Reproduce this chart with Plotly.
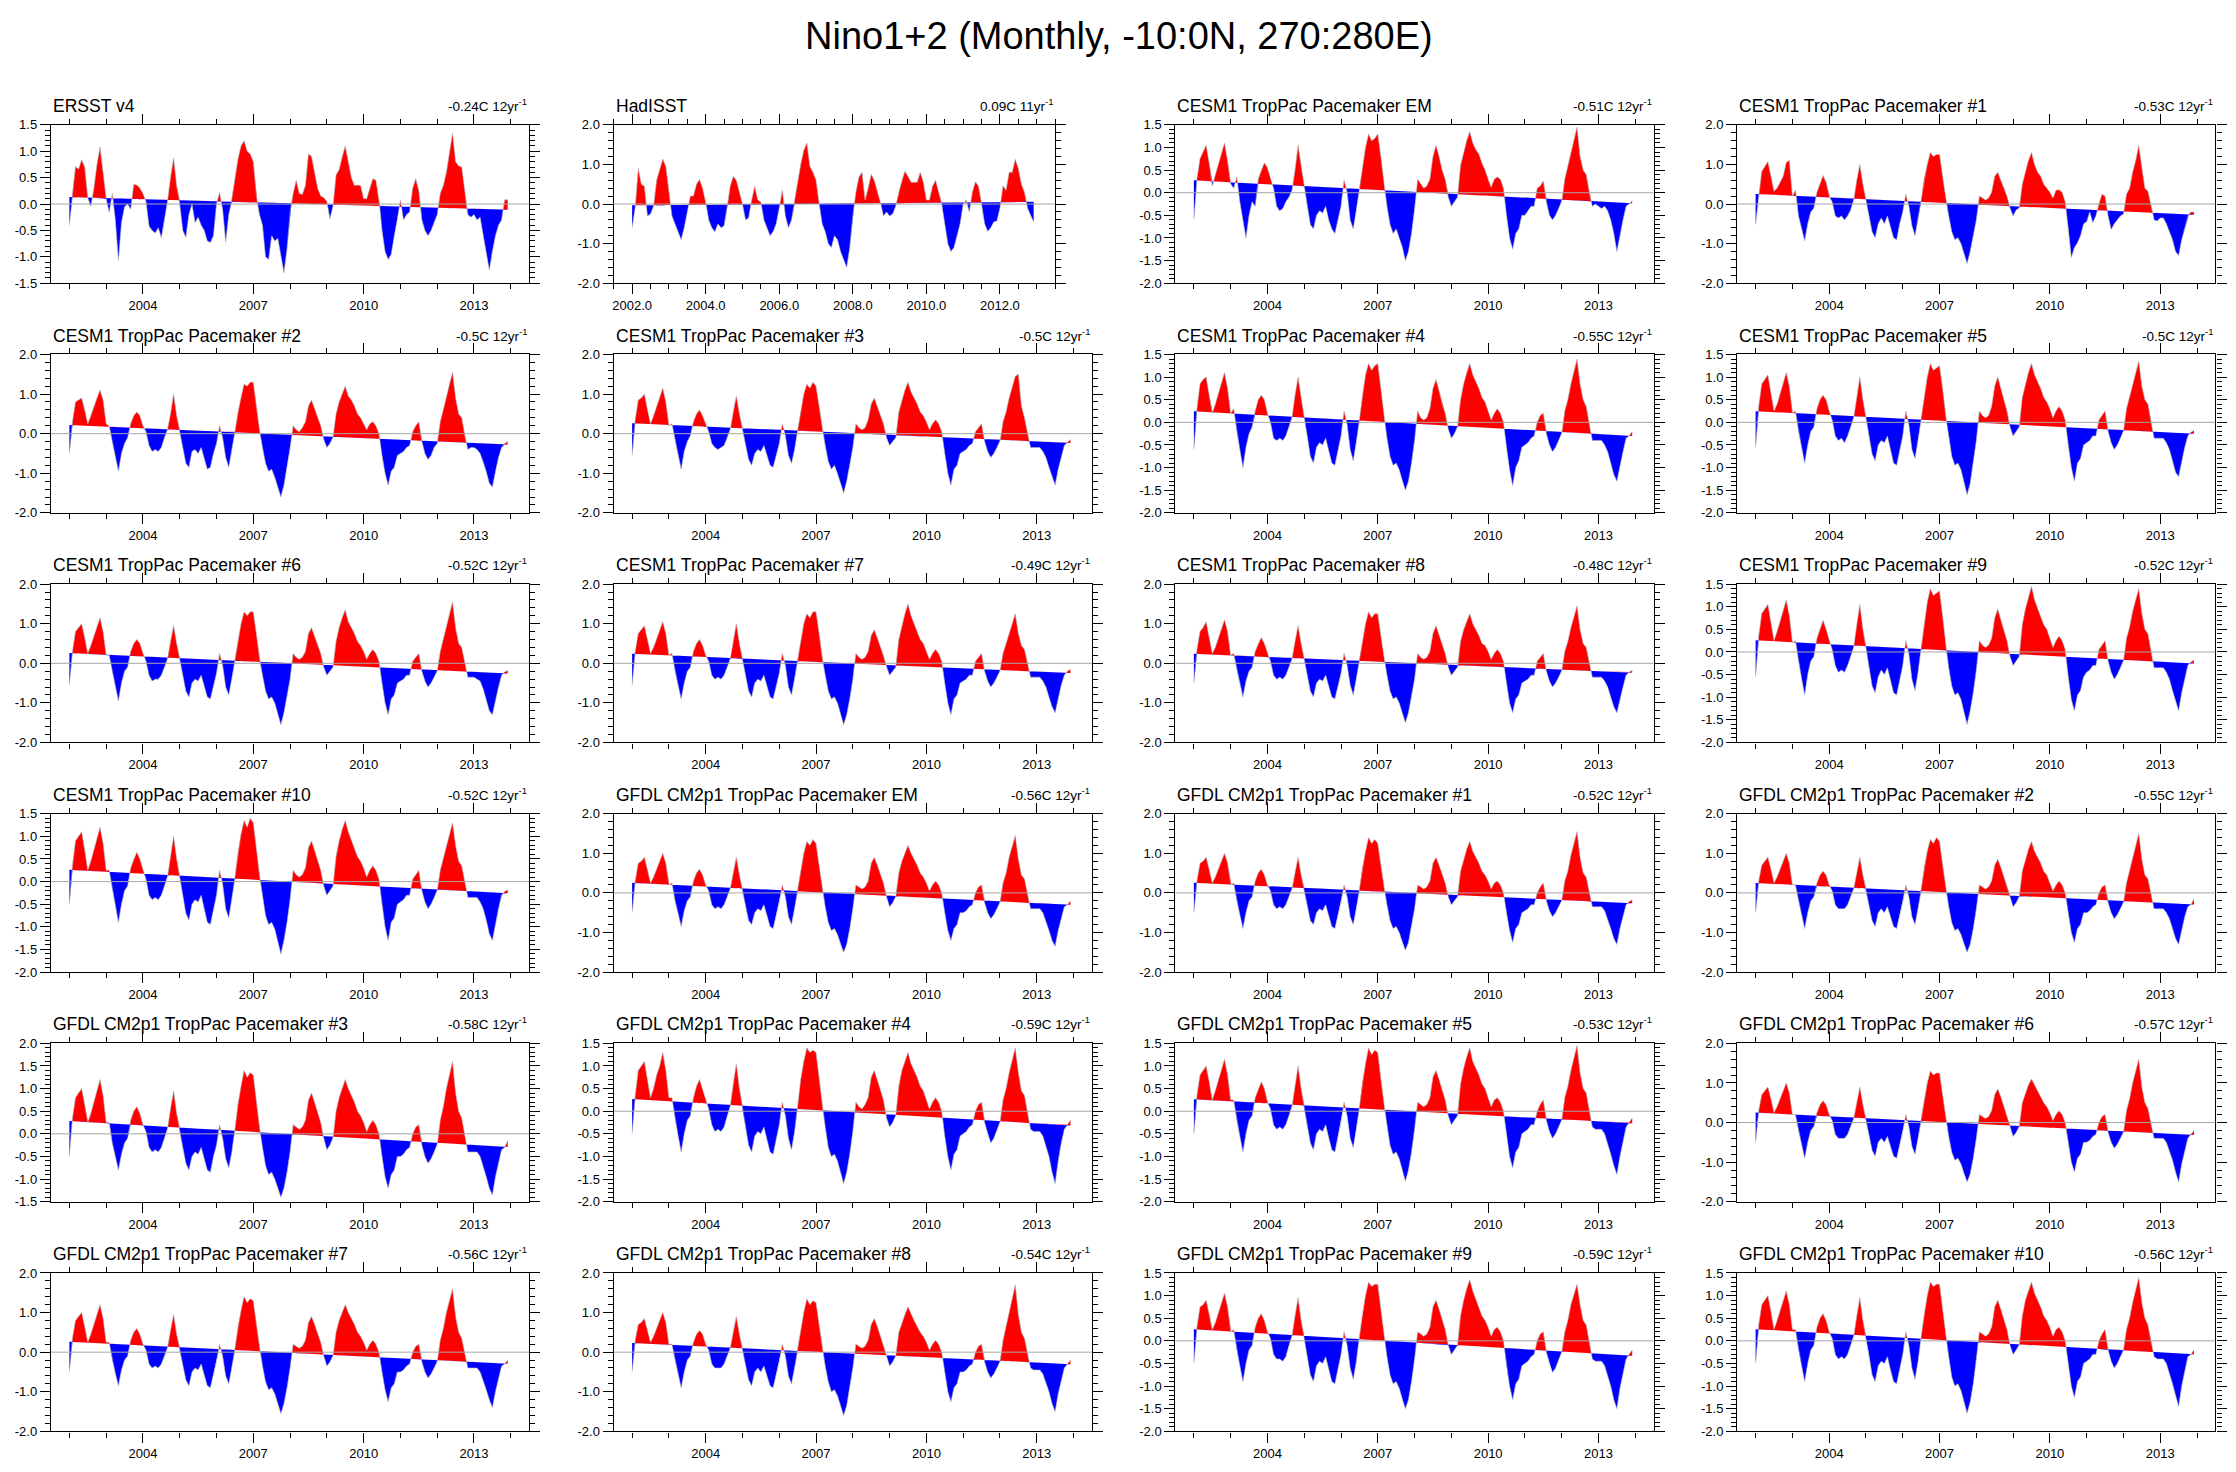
import numpy as np
import plotly.graph_objects as go

# page body has an 8px default margin; the figure is laid out in screen pixels
OFF = 8
SCREEN_W, SCREEN_H = 2236, 1472
W, H = SCREEN_W - OFF, SCREEN_H - OFF
FONT = "Liberation Sans, Arial, Helvetica, sans-serif"

main_title = "Nino1+2 (Monthly, -10:0N, 270:280E)"

panel_names = [
    "ERSST v4", "HadISST", "CESM1 TropPac Pacemaker EM", "CESM1 TropPac Pacemaker #1",
    "CESM1 TropPac Pacemaker #2", "CESM1 TropPac Pacemaker #3", "CESM1 TropPac Pacemaker #4", "CESM1 TropPac Pacemaker #5",
    "CESM1 TropPac Pacemaker #6", "CESM1 TropPac Pacemaker #7", "CESM1 TropPac Pacemaker #8", "CESM1 TropPac Pacemaker #9",
    "CESM1 TropPac Pacemaker #10", "GFDL CM2p1 TropPac Pacemaker EM", "GFDL CM2p1 TropPac Pacemaker #1", "GFDL CM2p1 TropPac Pacemaker #2",
    "GFDL CM2p1 TropPac Pacemaker #3", "GFDL CM2p1 TropPac Pacemaker #4", "GFDL CM2p1 TropPac Pacemaker #5", "GFDL CM2p1 TropPac Pacemaker #6",
    "GFDL CM2p1 TropPac Pacemaker #7", "GFDL CM2p1 TropPac Pacemaker #8", "GFDL CM2p1 TropPac Pacemaker #9", "GFDL CM2p1 TropPac Pacemaker #10",
]
trend_degC = [-0.24, 0.09, -0.51, -0.53,
              -0.5, -0.5, -0.55, -0.5,
              -0.52, -0.49, -0.48, -0.52,
              -0.52, -0.56, -0.52, -0.55,
              -0.58, -0.59, -0.53, -0.57,
              -0.56, -0.54, -0.59, -0.56]
trend_years = [12, 11] + [12] * 22
y_min = [-1.5, -2, -2, -2,  -2, -2, -2, -2,  -2, -2, -2, -2,  -2, -2, -2, -2,  -1.5, -2, -2, -2,  -2, -2, -2, -2]
y_max = [1.5, 2, 1.5, 2,  2, 2, 1.5, 1.5,  2, 2, 2, 1.5,  1.5, 2, 2, 2,  2, 1.5, 1.5, 2,  2, 2, 1.5, 1.5]
y_step = [0.5, 1, 0.5, 1,  1, 1, 0.5, 0.5,  1, 1, 1, 0.5,  0.5, 1, 1, 1,  0.5, 0.5, 0.5, 1,  1, 1, 0.5, 0.5]

start_year = 2002
year_ticks = [2004, 2007, 2010, 2013]
hadisst_ticks = [2002, 2004, 2006, 2008, 2010, 2012]

ersst = [
    -0.40, 0.20, 0.71, 0.66, 0.84, 0.70, 0.12, -0.04, 0.30, 0.75, 1.08, 0.60,
    0.10, -0.16, 0.20, -0.30, -1.07, -0.35, -0.05, 0.00, -0.10, 0.37, 0.36, 0.30,
    0.20, 0.05, -0.42, -0.50, -0.55, -0.45, -0.64, -0.30, 0.05, 0.50, 0.87, 0.35,
    0.00, -0.50, -0.63, -0.20, 0.00, -0.35, -0.25, -0.40, -0.50, -0.70, -0.73, -0.60,
    0.00, 0.22, -0.10, -0.72, -0.20, 0.10, 0.45, 0.85, 1.10, 1.20, 1.00, 0.95,
    0.80, 0.15, -0.20, -0.40, -1.00, -1.05, -0.60, -0.70, -0.65, -1.00, -1.30, -0.85,
    -0.15, 0.20, 0.45, 0.20, 0.18, 0.35, 0.95, 0.90, 0.60, 0.30, 0.15, 0.12,
    0.05, -0.28, -0.05, 0.55, 0.65, 0.90, 1.10, 0.80, 0.50, 0.35, 0.36, 0.35,
    0.10, 0.10, 0.30, 0.48, 0.45, 0.10, -0.50, -0.90, -1.05, -0.95, -0.60, -0.30,
    0.08, -0.30, -0.20, -0.15, 0.30, 0.48, 0.25, -0.30, -0.50, -0.60, -0.50, -0.35,
    -0.20, 0.20, 0.35, 0.60, 1.00, 1.34, 0.80, 0.72, 0.70, 0.20, -0.20, -0.25,
    -0.20, -0.30, -0.25, -0.60, -0.90, -1.25, -0.90, -0.60, -0.40, -0.30, 0.08, 0.08,
]
hadisst = [
    -0.60, -0.10, 0.90, 0.50, 0.45, -0.30, -0.25, -0.05, 0.60, 0.85, 1.14, 0.95,
    0.30, -0.30, -0.50, -0.70, -0.90, -0.60, -0.20, 0.20, 0.20, 0.50, 0.62, 0.40,
    0.05, -0.40, -0.60, -0.70, -0.50, -0.60, -0.55, -0.10, 0.45, 0.70, 0.60, 0.30,
    0.00, -0.40, -0.35, 0.10, 0.45, 0.10, 0.05, -0.40, -0.60, -0.80, -0.70, -0.50,
    -0.10, 0.35, -0.30, -0.60, -0.40, 0.10, 0.60, 1.00, 1.35, 1.54, 0.95, 0.80,
    0.60, 0.00, -0.50, -0.70, -1.00, -1.10, -0.80, -0.90, -1.20, -1.40, -1.60, -1.10,
    -0.30, 0.30, 0.68, 0.80, 0.10, 0.40, 0.75, 0.60, 0.35, 0.05, -0.30, -0.20,
    -0.30, -0.25, -0.05, 0.30, 0.60, 0.83, 0.70, 0.55, 0.55, 0.55, 0.80, 0.55,
    0.10, 0.10, 0.45, 0.60, 0.30, 0.00, -0.50, -1.00, -1.20, -1.10, -0.80, -0.50,
    0.00, 0.10, -0.20, 0.30, 0.56, 0.45, 0.00, -0.50, -0.69, -0.60, -0.45, -0.43,
    -0.10, 0.46, 0.35, 0.80, 0.80, 1.13, 0.90, 0.50, 0.30, -0.10, -0.30, -0.45,
]
cesm_em = [
    -0.6, 0.3, 0.75, 0.9, 1.05, 0.65, 0.15, 0.4, 0.65, 0.85, 1.1, 0.7,
    0.2, 0.1, 0.35, -0.2, -0.6, -1.0, -0.5, -0.2, -0.3, 0.3, 0.5, 0.66,
    0.55, 0.3, 0.1, -0.3, -0.4, -0.35, -0.2, -0.1, 0.05, 0.5, 1.05, 0.6,
    0.15, -0.3, -0.7, -0.8, -0.5, -0.4, -0.45, -0.3, -0.6, -0.8, -0.9, -0.6,
    -0.3, 0.28, 0.0, -0.6, -0.8, -0.4, 0.1, 0.6, 1.0, 1.3, 1.15, 1.2,
    1.3, 0.8, 0.2, -0.3, -0.7, -0.9, -0.8, -1.0, -1.2, -1.5, -1.3, -0.9,
    -0.4, 0.3, 0.2, 0.1, 0.15, 0.3, 0.8, 1.05, 0.8, 0.5, 0.3, -0.1,
    -0.3, -0.2, -0.1, 0.6, 0.9, 1.15, 1.35, 1.1, 0.95, 0.85, 0.65, 0.5,
    0.3, 0.12, 0.3, 0.35, 0.3, 0.1, -0.5, -1.0, -1.25, -0.9, -0.8, -0.5,
    -0.5, -0.4, -0.3, -0.3, 0.1, 0.15, 0.26, -0.2, -0.5, -0.6, -0.5, -0.35,
    -0.2, 0.3, 0.6, 0.9, 1.2, 1.45, 0.8, 0.5, 0.4, 0.0, -0.3, -0.25,
    -0.3, -0.35, -0.3, -0.4, -0.6, -0.9, -1.3, -0.9, -0.6, -0.3, -0.25, -0.18,
]
cesm_1 = [
    -0.52, 0.2, 0.82, 0.95, 1.07, 0.7, 0.32, 0.4, 0.55, 0.7, 1.05, 1.1,
    0.2, 0.35, -0.3, -0.6, -0.93, -0.5, -0.2, -0.1, 0.3, 0.5, 0.72, 0.55,
    0.2, 0.05, -0.3, -0.35, -0.3, -0.4, -0.3, -0.15, 0.1, 0.6, 1.0, 0.5,
    0.1, -0.3, -0.7, -0.85, -0.5, -0.35, -0.5, -0.3, -0.6, -0.85, -0.9, -0.5,
    -0.2, 0.25, -0.05, -0.55, -0.8, -0.35, 0.1, 0.65, 1.0, 1.3, 1.2, 1.25,
    1.25, 0.7, 0.15, -0.3, -0.7, -0.9, -0.85, -1.0, -1.25, -1.5, -1.2, -0.8,
    -0.4, 0.2, 0.15, 0.1, 0.15, 0.3, 0.7, 0.8, 0.6, 0.4, 0.2, -0.1,
    -0.3, -0.15, -0.1, 0.5, 0.8, 1.1, 1.3, 1.0, 0.8, 0.7, 0.5, 0.4,
    0.3, 0.15, 0.35, 0.36, 0.3, 0.05, -0.6, -1.35, -1.1, -0.98, -0.8, -0.5,
    -0.45, -0.2, -0.47, -0.3, 0.0, 0.25, 0.2, -0.3, -0.64, -0.5, -0.4, -0.3,
    -0.25, 0.25, 0.4, 0.8, 1.1, 1.48, 0.9, 0.4, 0.32, 0.0, -0.4, -0.43,
    -0.35, -0.35, -0.5, -0.7, -0.9, -1.2, -1.3, -0.9, -0.6, -0.3, -0.2, -0.2,
]
cesm_2 = [
    -0.5, 0.3, 0.8, 0.85, 0.9, 0.6, 0.25, 0.45, 0.7, 0.9, 1.1, 0.85,
    0.25, 0.2, -0.2, -0.55, -0.95, -0.5, -0.25, -0.1, 0.25, 0.45, 0.55, 0.45,
    0.2, 0.05, -0.3, -0.45, -0.4, -0.45, -0.35, -0.1, 0.1, 0.5, 1.0, 0.45,
    0.05, -0.35, -0.75, -0.85, -0.45, -0.4, -0.5, -0.35, -0.65, -0.9, -0.85, -0.5,
    -0.25, 0.2, -0.1, -0.6, -0.85, -0.4, 0.05, 0.55, 0.95, 1.25, 1.2, 1.3,
    1.3, 0.7, 0.1, -0.35, -0.75, -0.95, -0.9, -1.1, -1.35, -1.6, -1.3, -0.85,
    -0.4, 0.2, 0.1, 0.05, 0.15, 0.3, 0.7, 0.85, 0.65, 0.4, 0.2, -0.15,
    -0.35, -0.25, -0.1, 0.5, 0.8, 1.0, 1.2, 0.95, 0.85, 0.7, 0.5, 0.4,
    0.25, 0.1, 0.25, 0.3, 0.2, 0.0, -0.55, -1.0, -1.3, -0.95, -0.85, -0.55,
    -0.5, -0.45, -0.35, -0.3, 0.05, 0.2, 0.3, -0.2, -0.5, -0.65, -0.55, -0.35,
    -0.25, 0.3, 0.6, 0.95, 1.25, 1.55, 0.9, 0.5, 0.4, -0.05, -0.4, -0.35,
    -0.35, -0.4, -0.5, -0.7, -0.95, -1.25, -1.35, -0.95, -0.6, -0.35, -0.25, -0.2,
]
cesm_3 = [
    -0.55, 0.35, 0.85, 0.9, 1.0, 0.6, 0.25, 0.45, 0.7, 0.9, 1.15, 0.8,
    0.2, 0.25, -0.15, -0.5, -0.9, -0.45, -0.2, -0.05, 0.3, 0.5, 0.6, 0.45,
    0.25, 0.05, -0.25, -0.35, -0.4, -0.35, -0.3, -0.1, 0.1, 0.55, 0.95, 0.5,
    0.1, -0.3, -0.65, -0.8, -0.5, -0.4, -0.45, -0.3, -0.55, -0.8, -0.85, -0.55,
    -0.25, 0.25, -0.05, -0.55, -0.75, -0.4, 0.1, 0.6, 1.0, 1.25, 1.15, 1.3,
    1.2, 0.7, 0.15, -0.3, -0.7, -0.9, -0.8, -1.0, -1.25, -1.5, -1.2, -0.8,
    -0.35, 0.25, 0.15, 0.1, 0.15, 0.35, 0.75, 0.9, 0.7, 0.45, 0.25, -0.1,
    -0.3, -0.2, -0.1, 0.55, 0.85, 1.1, 1.3, 1.05, 0.9, 0.75, 0.55, 0.45,
    0.3, 0.1, 0.25, 0.35, 0.25, 0.05, -0.5, -1.0, -1.3, -0.9, -0.8, -0.5,
    -0.45, -0.4, -0.3, -0.25, 0.05, 0.15, 0.25, -0.2, -0.45, -0.6, -0.5, -0.35,
    -0.2, 0.3, 0.55, 0.9, 1.2, 1.45, 1.5, 0.7, 0.4, 0.0, -0.35, -0.35,
    -0.35, -0.35, -0.45, -0.6, -0.85, -1.1, -1.3, -0.9, -0.6, -0.3, -0.22, -0.15,
]
cesm_4 = [
    -0.6, 0.3, 0.85, 0.95, 1.0, 0.6, 0.2, 0.4, 0.65, 0.85, 1.1, 0.75,
    0.2, 0.3, -0.2, -0.6, -1.0, -0.55, -0.25, -0.1, 0.25, 0.5, 0.6, 0.5,
    0.2, 0.0, -0.35, -0.4, -0.35, -0.4, -0.3, -0.1, 0.1, 0.6, 1.0, 0.55,
    0.1, -0.3, -0.75, -0.9, -0.55, -0.45, -0.5, -0.35, -0.65, -0.9, -0.95, -0.6,
    -0.3, 0.25, -0.05, -0.6, -0.85, -0.45, 0.05, 0.6, 1.05, 1.3, 1.15, 1.25,
    1.3, 0.75, 0.15, -0.35, -0.75, -0.95, -0.9, -1.05, -1.3, -1.5, -1.3, -0.9,
    -0.4, 0.25, 0.1, 0.05, 0.1, 0.3, 0.75, 0.95, 0.7, 0.4, 0.2, -0.15,
    -0.35, -0.25, -0.1, 0.5, 0.85, 1.1, 1.3, 1.05, 0.9, 0.75, 0.55, 0.45,
    0.25, 0.05, 0.2, 0.3, 0.2, 0.0, -0.55, -1.05, -1.4, -1.0, -0.85, -0.55,
    -0.5, -0.45, -0.35, -0.3, 0.0, 0.15, 0.2, -0.25, -0.5, -0.65, -0.55, -0.4,
    -0.25, 0.25, 0.5, 0.85, 1.1, 1.4, 0.85, 0.5, 0.35, -0.05, -0.4, -0.4,
    -0.4, -0.4, -0.5, -0.65, -0.9, -1.15, -1.3, -0.95, -0.65, -0.35, -0.3, -0.2,
]
cesm_5 = [
    -0.55, 0.35, 0.85, 0.95, 1.05, 0.65, 0.25, 0.4, 0.65, 0.9, 1.1, 0.8,
    0.2, 0.25, -0.2, -0.55, -0.9, -0.5, -0.2, -0.1, 0.3, 0.5, 0.6, 0.5,
    0.25, 0.05, -0.3, -0.4, -0.35, -0.45, -0.3, -0.1, 0.1, 0.55, 1.0, 0.5,
    0.1, -0.3, -0.7, -0.85, -0.5, -0.4, -0.45, -0.3, -0.6, -0.9, -0.95, -0.6,
    -0.3, 0.25, -0.05, -0.6, -0.8, -0.4, 0.1, 0.6, 1.0, 1.3, 1.15, 1.2,
    1.25, 0.75, 0.15, -0.3, -0.75, -0.95, -0.9, -1.05, -1.3, -1.6, -1.35, -0.9,
    -0.4, 0.25, 0.15, 0.1, 0.15, 0.35, 0.8, 1.0, 0.75, 0.45, 0.25, -0.1,
    -0.3, -0.2, -0.1, 0.55, 0.85, 1.1, 1.3, 1.05, 0.9, 0.75, 0.55, 0.45,
    0.3, 0.1, 0.25, 0.35, 0.25, 0.05, -0.5, -1.0, -1.3, -0.9, -0.8, -0.5,
    -0.45, -0.4, -0.3, -0.3, 0.05, 0.15, 0.25, -0.2, -0.45, -0.6, -0.5, -0.35,
    -0.2, 0.3, 0.55, 0.85, 1.1, 1.35, 0.8, 0.5, 0.4, 0.0, -0.35, -0.35,
    -0.35, -0.35, -0.45, -0.6, -0.85, -1.1, -1.2, -0.85, -0.55, -0.3, -0.22, -0.18,
]
cesm_6 = [
    -0.55, 0.3, 0.8, 0.9, 1.0, 0.65, 0.25, 0.45, 0.7, 0.9, 1.15, 0.8,
    0.2, 0.2, -0.2, -0.6, -0.95, -0.5, -0.2, -0.1, 0.3, 0.5, 0.6, 0.5,
    0.25, 0.05, -0.3, -0.45, -0.4, -0.4, -0.3, -0.1, 0.1, 0.55, 0.95, 0.5,
    0.1, -0.3, -0.7, -0.85, -0.5, -0.4, -0.45, -0.3, -0.6, -0.85, -0.9, -0.55,
    -0.25, 0.25, -0.05, -0.6, -0.8, -0.4, 0.1, 0.6, 1.0, 1.3, 1.2, 1.3,
    1.3, 0.75, 0.15, -0.3, -0.7, -0.9, -0.85, -1.0, -1.3, -1.55, -1.25, -0.85,
    -0.4, 0.25, 0.15, 0.1, 0.15, 0.3, 0.75, 0.9, 0.7, 0.45, 0.25, -0.1,
    -0.3, -0.2, -0.1, 0.55, 0.9, 1.15, 1.35, 1.05, 0.9, 0.75, 0.55, 0.45,
    0.3, 0.1, 0.25, 0.35, 0.25, 0.05, -0.5, -1.0, -1.3, -0.9, -0.8, -0.5,
    -0.45, -0.4, -0.3, -0.3, 0.05, 0.15, 0.25, -0.2, -0.45, -0.6, -0.5, -0.35,
    -0.2, 0.3, 0.6, 0.95, 1.25, 1.55, 0.9, 0.5, 0.4, 0.0, -0.35, -0.35,
    -0.35, -0.4, -0.45, -0.65, -0.9, -1.2, -1.3, -0.9, -0.6, -0.3, -0.22, -0.18,
]
cesm_7 = [
    -0.55, 0.3, 0.75, 0.85, 0.95, 0.6, 0.25, 0.4, 0.6, 0.85, 1.05, 0.75,
    0.2, 0.25, -0.2, -0.55, -0.9, -0.5, -0.2, -0.1, 0.3, 0.5, 0.6, 0.45,
    0.2, 0.05, -0.3, -0.4, -0.35, -0.4, -0.3, -0.1, 0.1, 0.55, 1.0, 0.5,
    0.1, -0.3, -0.7, -0.85, -0.5, -0.4, -0.45, -0.3, -0.6, -0.85, -0.9, -0.55,
    -0.25, 0.25, -0.05, -0.6, -0.8, -0.4, 0.1, 0.6, 1.0, 1.25, 1.15, 1.3,
    1.3, 0.75, 0.15, -0.3, -0.7, -0.9, -0.85, -1.0, -1.3, -1.55, -1.3, -0.9,
    -0.4, 0.25, 0.15, 0.1, 0.15, 0.3, 0.7, 0.85, 0.65, 0.4, 0.2, -0.1,
    -0.3, -0.2, -0.1, 0.6, 0.95, 1.25, 1.5, 1.2, 1.0, 0.8, 0.6, 0.5,
    0.3, 0.1, 0.25, 0.35, 0.25, 0.05, -0.5, -1.0, -1.3, -0.9, -0.8, -0.5,
    -0.45, -0.4, -0.3, -0.3, 0.05, 0.15, 0.25, -0.2, -0.45, -0.6, -0.5, -0.35,
    -0.2, 0.25, 0.5, 0.8, 1.05, 1.25, 0.75, 0.45, 0.35, 0.0, -0.35, -0.35,
    -0.35, -0.35, -0.45, -0.6, -0.85, -1.1, -1.25, -0.85, -0.55, -0.3, -0.2, -0.15,
]
cesm_8 = [
    -0.5, 0.35, 0.8, 0.9, 1.05, 0.65, 0.25, 0.4, 0.65, 0.85, 1.1, 0.8,
    0.2, 0.25, -0.15, -0.5, -0.85, -0.45, -0.2, -0.1, 0.3, 0.5, 0.65, 0.5,
    0.25, 0.05, -0.3, -0.4, -0.35, -0.4, -0.3, -0.1, 0.1, 0.55, 0.95, 0.5,
    0.1, -0.3, -0.7, -0.85, -0.5, -0.4, -0.45, -0.3, -0.6, -0.85, -0.9, -0.55,
    -0.25, 0.25, -0.05, -0.55, -0.8, -0.4, 0.1, 0.6, 1.0, 1.3, 1.15, 1.25,
    1.25, 0.7, 0.15, -0.3, -0.7, -0.9, -0.85, -1.0, -1.25, -1.5, -1.25, -0.85,
    -0.4, 0.25, 0.15, 0.1, 0.15, 0.3, 0.75, 0.95, 0.7, 0.45, 0.25, -0.1,
    -0.3, -0.2, -0.1, 0.55, 0.85, 1.05, 1.25, 1.0, 0.85, 0.7, 0.5, 0.45,
    0.3, 0.1, 0.25, 0.35, 0.25, 0.05, -0.5, -1.0, -1.25, -0.9, -0.8, -0.5,
    -0.45, -0.4, -0.3, -0.3, 0.05, 0.15, 0.25, -0.2, -0.45, -0.6, -0.5, -0.35,
    -0.2, 0.3, 0.55, 0.9, 1.2, 1.45, 0.85, 0.5, 0.4, 0.0, -0.35, -0.35,
    -0.35, -0.35, -0.45, -0.6, -0.85, -1.1, -1.25, -0.9, -0.6, -0.3, -0.22, -0.18,
]
cesm_9 = [
    -0.55, 0.35, 0.85, 0.95, 1.05, 0.65, 0.25, 0.45, 0.7, 0.9, 1.15, 0.8,
    0.2, 0.25, -0.2, -0.6, -0.95, -0.5, -0.2, -0.1, 0.3, 0.5, 0.7, 0.5,
    0.25, 0.05, -0.3, -0.45, -0.4, -0.45, -0.3, -0.1, 0.1, 0.6, 1.05, 0.5,
    0.1, -0.35, -0.75, -0.9, -0.55, -0.4, -0.5, -0.35, -0.65, -0.9, -0.95, -0.6,
    -0.3, 0.25, -0.05, -0.6, -0.85, -0.45, 0.1, 0.65, 1.1, 1.4, 1.25, 1.3,
    1.35, 0.8, 0.15, -0.35, -0.75, -0.95, -0.9, -1.05, -1.35, -1.6, -1.3, -0.9,
    -0.4, 0.25, 0.15, 0.1, 0.15, 0.3, 0.75, 0.95, 0.7, 0.45, 0.25, -0.1,
    -0.3, -0.2, -0.1, 0.6, 0.95, 1.2, 1.45, 1.15, 0.95, 0.8, 0.6, 0.5,
    0.3, 0.1, 0.25, 0.35, 0.25, 0.05, -0.55, -1.05, -1.3, -0.95, -0.85, -0.55,
    -0.45, -0.4, -0.3, -0.3, 0.05, 0.15, 0.25, -0.2, -0.45, -0.6, -0.5, -0.35,
    -0.2, 0.3, 0.55, 0.9, 1.15, 1.4, 0.85, 0.5, 0.4, 0.0, -0.35, -0.35,
    -0.35, -0.35, -0.45, -0.6, -0.85, -1.1, -1.3, -0.9, -0.6, -0.3, -0.22, -0.18,
]
cesm_10 = [
    -0.5, 0.35, 0.9, 1.0, 1.1, 0.7, 0.25, 0.45, 0.7, 0.95, 1.2, 0.85,
    0.25, 0.25, -0.15, -0.55, -0.9, -0.5, -0.2, -0.1, 0.3, 0.5, 0.65, 0.5,
    0.25, 0.05, -0.3, -0.4, -0.35, -0.4, -0.3, -0.1, 0.1, 0.55, 1.0, 0.5,
    0.1, -0.3, -0.7, -0.85, -0.5, -0.4, -0.45, -0.3, -0.6, -0.9, -0.95, -0.6,
    -0.3, 0.25, -0.05, -0.6, -0.8, -0.4, 0.1, 0.65, 1.05, 1.35, 1.2, 1.4,
    1.3, 0.75, 0.15, -0.3, -0.75, -0.95, -0.9, -1.05, -1.35, -1.6, -1.3, -0.9,
    -0.4, 0.25, 0.15, 0.1, 0.15, 0.3, 0.75, 0.9, 0.7, 0.45, 0.25, -0.1,
    -0.3, -0.2, -0.1, 0.55, 0.9, 1.15, 1.35, 1.1, 0.9, 0.75, 0.55, 0.45,
    0.3, 0.1, 0.25, 0.35, 0.25, 0.05, -0.5, -1.0, -1.3, -0.9, -0.8, -0.5,
    -0.45, -0.4, -0.3, -0.3, 0.05, 0.15, 0.25, -0.2, -0.45, -0.6, -0.5, -0.35,
    -0.2, 0.25, 0.5, 0.8, 1.05, 1.3, 0.8, 0.45, 0.35, 0.0, -0.35, -0.35,
    -0.35, -0.35, -0.45, -0.6, -0.85, -1.15, -1.3, -0.9, -0.6, -0.3, -0.22, -0.18,
]
gfdl_em = [
    -0.5, 0.3, 0.75, 0.8, 0.9, 0.6, 0.25, 0.4, 0.6, 0.8, 1.0, 0.75,
    0.2, 0.25, -0.2, -0.5, -0.85, -0.45, -0.2, -0.1, 0.3, 0.5, 0.6, 0.45,
    0.2, 0.05, -0.3, -0.4, -0.35, -0.4, -0.3, -0.1, 0.1, 0.5, 0.9, 0.45,
    0.05, -0.3, -0.7, -0.8, -0.5, -0.4, -0.45, -0.3, -0.6, -0.85, -0.9, -0.55,
    -0.25, 0.2, -0.1, -0.6, -0.8, -0.4, 0.1, 0.6, 1.0, 1.3, 1.2, 1.35,
    1.25, 0.7, 0.15, -0.35, -0.75, -0.95, -0.9, -1.05, -1.3, -1.5, -1.3, -0.9,
    -0.4, 0.2, 0.15, 0.1, 0.15, 0.3, 0.75, 0.9, 0.7, 0.45, 0.25, -0.1,
    -0.35, -0.25, -0.1, 0.5, 0.8, 1.0, 1.2, 1.0, 0.85, 0.7, 0.5, 0.4,
    0.25, 0.05, 0.2, 0.3, 0.2, 0.0, -0.5, -0.95, -1.2, -0.9, -0.8, -0.5,
    -0.5, -0.45, -0.35, -0.3, 0.0, 0.15, 0.2, -0.25, -0.5, -0.65, -0.55, -0.4,
    -0.25, 0.25, 0.5, 0.9, 1.2, 1.45, 0.85, 0.45, 0.35, -0.05, -0.4, -0.4,
    -0.4, -0.4, -0.5, -0.7, -0.95, -1.2, -1.35, -0.95, -0.65, -0.35, -0.3, -0.2,
]
gfdl_1 = [
    -0.5, 0.3, 0.75, 0.8, 0.9, 0.6, 0.25, 0.4, 0.6, 0.8, 1.0, 0.75,
    0.2, 0.25, -0.2, -0.55, -0.9, -0.5, -0.2, -0.1, 0.3, 0.5, 0.6, 0.45,
    0.2, 0.05, -0.3, -0.4, -0.35, -0.4, -0.3, -0.1, 0.1, 0.5, 0.9, 0.45,
    0.05, -0.3, -0.7, -0.8, -0.5, -0.4, -0.45, -0.3, -0.6, -0.85, -0.9, -0.55,
    -0.25, 0.2, -0.1, -0.6, -0.8, -0.4, 0.1, 0.65, 1.05, 1.4, 1.25, 1.35,
    1.25, 0.7, 0.15, -0.3, -0.7, -0.9, -0.85, -1.0, -1.25, -1.45, -1.25, -0.85,
    -0.4, 0.2, 0.15, 0.1, 0.15, 0.3, 0.75, 0.9, 0.7, 0.45, 0.25, -0.1,
    -0.3, -0.2, -0.1, 0.55, 0.85, 1.1, 1.3, 1.05, 0.9, 0.75, 0.55, 0.45,
    0.3, 0.1, 0.25, 0.3, 0.2, 0.0, -0.5, -0.95, -1.25, -0.9, -0.8, -0.5,
    -0.45, -0.4, -0.3, -0.3, 0.0, 0.15, 0.25, -0.2, -0.45, -0.6, -0.5, -0.35,
    -0.2, 0.3, 0.55, 0.95, 1.25, 1.55, 0.9, 0.5, 0.4, 0.0, -0.35, -0.35,
    -0.35, -0.35, -0.45, -0.65, -0.9, -1.15, -1.3, -0.9, -0.6, -0.3, -0.22, -0.18,
]
gfdl_2 = [
    -0.5, 0.3, 0.7, 0.8, 0.9, 0.6, 0.25, 0.4, 0.6, 0.8, 1.0, 0.75,
    0.2, 0.2, -0.2, -0.55, -0.9, -0.5, -0.2, -0.1, 0.25, 0.45, 0.55, 0.45,
    0.2, 0.05, -0.3, -0.4, -0.4, -0.4, -0.3, -0.1, 0.1, 0.5, 0.9, 0.45,
    0.05, -0.3, -0.7, -0.85, -0.5, -0.4, -0.5, -0.35, -0.6, -0.85, -0.9, -0.55,
    -0.25, 0.2, -0.1, -0.6, -0.8, -0.4, 0.1, 0.65, 1.05, 1.35, 1.25, 1.4,
    1.3, 0.7, 0.15, -0.35, -0.75, -0.95, -0.9, -1.05, -1.3, -1.5, -1.3, -0.9,
    -0.4, 0.2, 0.15, 0.1, 0.15, 0.3, 0.7, 0.85, 0.65, 0.4, 0.2, -0.1,
    -0.35, -0.25, -0.1, 0.55, 0.85, 1.1, 1.3, 1.05, 0.9, 0.75, 0.55, 0.45,
    0.25, 0.05, 0.2, 0.3, 0.2, 0.0, -0.5, -1.0, -1.25, -0.9, -0.8, -0.5,
    -0.5, -0.45, -0.35, -0.3, 0.0, 0.15, 0.2, -0.25, -0.5, -0.65, -0.55, -0.4,
    -0.25, 0.25, 0.55, 0.9, 1.2, 1.5, 0.85, 0.45, 0.35, -0.05, -0.4, -0.4,
    -0.4, -0.4, -0.5, -0.65, -0.9, -1.15, -1.3, -0.9, -0.6, -0.35, -0.3, -0.15,
]
gfdl_3 = [
    -0.5, 0.35, 0.8, 0.9, 1.0, 0.65, 0.25, 0.45, 0.7, 0.9, 1.2, 0.85,
    0.25, 0.25, -0.2, -0.5, -0.8, -0.45, -0.2, -0.1, 0.3, 0.5, 0.6, 0.45,
    0.2, 0.05, -0.3, -0.4, -0.35, -0.4, -0.3, -0.1, 0.1, 0.55, 0.95, 0.45,
    0.05, -0.3, -0.65, -0.8, -0.5, -0.4, -0.45, -0.3, -0.55, -0.8, -0.85, -0.5,
    -0.25, 0.2, -0.1, -0.55, -0.75, -0.4, 0.1, 0.65, 1.05, 1.4, 1.25, 1.35,
    1.3, 0.7, 0.15, -0.3, -0.7, -0.9, -0.85, -1.0, -1.2, -1.4, -1.2, -0.85,
    -0.4, 0.2, 0.15, 0.1, 0.15, 0.3, 0.75, 0.9, 0.7, 0.45, 0.25, -0.1,
    -0.35, -0.25, -0.1, 0.5, 0.8, 1.0, 1.2, 1.0, 0.85, 0.7, 0.5, 0.4,
    0.25, 0.05, 0.2, 0.3, 0.2, 0.0, -0.5, -0.95, -1.2, -0.9, -0.8, -0.5,
    -0.5, -0.45, -0.35, -0.3, 0.0, 0.15, 0.2, -0.25, -0.5, -0.65, -0.55, -0.4,
    -0.25, 0.3, 0.6, 1.0, 1.3, 1.6, 0.9, 0.5, 0.35, -0.05, -0.4, -0.4,
    -0.4, -0.4, -0.5, -0.7, -0.95, -1.2, -1.35, -0.95, -0.65, -0.35, -0.3, -0.15,
]
gfdl_4 = [
    -0.5, 0.35, 0.9, 1.0, 1.1, 0.7, 0.3, 0.5, 0.8, 1.0, 1.3, 0.9,
    0.3, 0.3, -0.15, -0.55, -0.9, -0.5, -0.2, -0.1, 0.3, 0.55, 0.7, 0.5,
    0.25, 0.05, -0.3, -0.45, -0.4, -0.45, -0.35, -0.1, 0.1, 0.6, 1.05, 0.5,
    0.05, -0.35, -0.75, -0.9, -0.55, -0.45, -0.5, -0.35, -0.65, -0.9, -0.95, -0.6,
    -0.3, 0.2, -0.1, -0.6, -0.85, -0.45, 0.1, 0.7, 1.1, 1.4, 1.3, 1.35,
    1.3, 0.75, 0.15, -0.35, -0.8, -1.0, -0.95, -1.1, -1.35, -1.6, -1.35, -0.95,
    -0.45, 0.2, 0.1, 0.05, 0.15, 0.3, 0.75, 0.9, 0.7, 0.45, 0.25, -0.15,
    -0.35, -0.25, -0.1, 0.55, 0.9, 1.1, 1.3, 1.05, 0.9, 0.75, 0.55, 0.45,
    0.25, 0.05, 0.2, 0.3, 0.2, 0.0, -0.55, -1.0, -1.3, -0.95, -0.85, -0.55,
    -0.5, -0.45, -0.35, -0.3, 0.0, 0.15, 0.2, -0.25, -0.5, -0.7, -0.6, -0.4,
    -0.25, 0.25, 0.5, 0.85, 1.15, 1.4, 0.85, 0.45, 0.35, -0.05, -0.4, -0.45,
    -0.45, -0.45, -0.55, -0.75, -1.0, -1.35, -1.6, -1.1, -0.7, -0.4, -0.3, -0.2,
]
gfdl_5 = [
    -0.5, 0.35, 0.8, 0.9, 1.0, 0.65, 0.25, 0.45, 0.7, 0.9, 1.15, 0.8,
    0.25, 0.25, -0.2, -0.55, -0.9, -0.5, -0.2, -0.1, 0.3, 0.5, 0.65, 0.5,
    0.2, 0.05, -0.3, -0.4, -0.35, -0.4, -0.3, -0.1, 0.1, 0.55, 1.0, 0.5,
    0.05, -0.3, -0.7, -0.85, -0.5, -0.4, -0.45, -0.3, -0.6, -0.85, -0.9, -0.55,
    -0.25, 0.2, -0.1, -0.6, -0.8, -0.4, 0.1, 0.65, 1.05, 1.4, 1.25, 1.35,
    1.3, 0.7, 0.15, -0.3, -0.75, -0.95, -0.9, -1.05, -1.3, -1.55, -1.3, -0.9,
    -0.4, 0.2, 0.15, 0.1, 0.15, 0.3, 0.75, 0.9, 0.7, 0.45, 0.25, -0.1,
    -0.3, -0.2, -0.1, 0.6, 0.95, 1.2, 1.4, 1.1, 0.95, 0.8, 0.6, 0.5,
    0.3, 0.1, 0.25, 0.3, 0.2, 0.0, -0.5, -1.0, -1.25, -0.9, -0.8, -0.5,
    -0.45, -0.4, -0.3, -0.3, 0.0, 0.15, 0.25, -0.2, -0.45, -0.6, -0.5, -0.35,
    -0.2, 0.3, 0.55, 0.9, 1.2, 1.45, 0.85, 0.5, 0.4, 0.0, -0.35, -0.4,
    -0.4, -0.4, -0.5, -0.7, -0.95, -1.2, -1.4, -1.0, -0.65, -0.35, -0.25, -0.15,
]
gfdl_6 = [
    -0.5, 0.3, 0.7, 0.8, 0.9, 0.6, 0.25, 0.4, 0.6, 0.8, 1.0, 0.75,
    0.2, 0.2, -0.2, -0.55, -0.9, -0.5, -0.2, -0.1, 0.25, 0.45, 0.55, 0.45,
    0.2, 0.05, -0.3, -0.4, -0.4, -0.4, -0.3, -0.1, 0.1, 0.5, 0.9, 0.45,
    0.05, -0.3, -0.7, -0.85, -0.5, -0.4, -0.5, -0.35, -0.6, -0.85, -0.9, -0.55,
    -0.25, 0.2, -0.1, -0.6, -0.8, -0.4, 0.1, 0.6, 1.0, 1.3, 1.2, 1.25,
    1.25, 0.7, 0.15, -0.35, -0.75, -0.95, -0.9, -1.05, -1.3, -1.5, -1.3, -0.9,
    -0.4, 0.2, 0.15, 0.1, 0.15, 0.3, 0.7, 0.85, 0.65, 0.4, 0.2, -0.1,
    -0.35, -0.25, -0.1, 0.5, 0.75, 0.95, 1.1, 0.95, 0.8, 0.65, 0.5, 0.4,
    0.25, 0.05, 0.2, 0.3, 0.2, 0.0, -0.5, -1.0, -1.25, -0.9, -0.8, -0.5,
    -0.5, -0.45, -0.35, -0.3, 0.0, 0.15, 0.2, -0.25, -0.5, -0.65, -0.55, -0.4,
    -0.25, 0.3, 0.6, 1.0, 1.3, 1.6, 0.9, 0.5, 0.35, -0.05, -0.4, -0.4,
    -0.4, -0.4, -0.5, -0.7, -0.95, -1.25, -1.5, -1.05, -0.7, -0.4, -0.3, -0.2,
]
gfdl_7 = [
    -0.5, 0.35, 0.8, 0.9, 1.0, 0.65, 0.25, 0.45, 0.7, 0.95, 1.2, 0.85,
    0.25, 0.25, -0.2, -0.55, -0.85, -0.45, -0.2, -0.1, 0.3, 0.5, 0.6, 0.45,
    0.2, 0.05, -0.3, -0.4, -0.35, -0.4, -0.3, -0.1, 0.1, 0.55, 0.95, 0.45,
    0.05, -0.3, -0.7, -0.85, -0.5, -0.4, -0.45, -0.3, -0.6, -0.85, -0.9, -0.55,
    -0.25, 0.2, -0.1, -0.6, -0.8, -0.4, 0.1, 0.65, 1.05, 1.4, 1.25, 1.35,
    1.3, 0.7, 0.15, -0.35, -0.75, -0.95, -0.9, -1.05, -1.3, -1.55, -1.3, -0.9,
    -0.4, 0.2, 0.15, 0.1, 0.15, 0.3, 0.75, 0.9, 0.7, 0.45, 0.25, -0.1,
    -0.35, -0.25, -0.1, 0.5, 0.8, 1.0, 1.2, 1.0, 0.85, 0.7, 0.5, 0.4,
    0.25, 0.05, 0.2, 0.3, 0.2, 0.0, -0.5, -0.95, -1.25, -0.9, -0.8, -0.5,
    -0.5, -0.45, -0.35, -0.3, 0.0, 0.15, 0.2, -0.25, -0.5, -0.65, -0.55, -0.4,
    -0.25, 0.3, 0.6, 1.0, 1.3, 1.6, 0.9, 0.5, 0.35, -0.05, -0.4, -0.4,
    -0.4, -0.4, -0.5, -0.7, -0.95, -1.2, -1.4, -1.0, -0.65, -0.35, -0.3, -0.2,
]
gfdl_8 = [
    -0.5, 0.3, 0.7, 0.75, 0.85, 0.55, 0.25, 0.4, 0.6, 0.8, 1.0, 0.75,
    0.2, 0.2, -0.2, -0.55, -0.9, -0.5, -0.2, -0.1, 0.25, 0.45, 0.55, 0.45,
    0.2, 0.05, -0.3, -0.4, -0.4, -0.4, -0.3, -0.1, 0.1, 0.5, 0.9, 0.45,
    0.05, -0.3, -0.7, -0.85, -0.5, -0.4, -0.5, -0.35, -0.6, -0.85, -0.9, -0.55,
    -0.25, 0.2, -0.1, -0.6, -0.8, -0.4, 0.1, 0.6, 1.0, 1.35, 1.2, 1.3,
    1.25, 0.7, 0.15, -0.35, -0.75, -1.0, -0.95, -1.1, -1.35, -1.6, -1.35, -0.9,
    -0.4, 0.2, 0.15, 0.1, 0.15, 0.3, 0.7, 0.85, 0.65, 0.4, 0.2, -0.1,
    -0.35, -0.25, -0.1, 0.5, 0.75, 0.95, 1.15, 0.95, 0.8, 0.65, 0.5, 0.4,
    0.25, 0.05, 0.2, 0.3, 0.2, 0.0, -0.5, -1.0, -1.25, -0.9, -0.8, -0.5,
    -0.5, -0.45, -0.35, -0.3, 0.0, 0.15, 0.2, -0.25, -0.5, -0.65, -0.55, -0.4,
    -0.25, 0.3, 0.65, 1.05, 1.4, 1.7, 0.95, 0.5, 0.35, -0.05, -0.4, -0.45,
    -0.45, -0.45, -0.55, -0.75, -1.0, -1.3, -1.5, -1.05, -0.7, -0.4, -0.3, -0.2,
]
gfdl_9 = [
    -0.5, 0.3, 0.75, 0.8, 0.9, 0.6, 0.25, 0.4, 0.6, 0.85, 1.05, 0.75,
    0.2, 0.25, -0.2, -0.55, -0.9, -0.5, -0.2, -0.1, 0.3, 0.5, 0.6, 0.45,
    0.2, 0.05, -0.3, -0.4, -0.4, -0.45, -0.35, -0.1, 0.1, 0.55, 0.95, 0.45,
    0.05, -0.35, -0.75, -0.9, -0.55, -0.45, -0.5, -0.35, -0.65, -0.9, -0.95, -0.6,
    -0.3, 0.2, -0.1, -0.6, -0.85, -0.45, 0.1, 0.6, 1.0, 1.3, 1.2, 1.25,
    1.25, 0.7, 0.15, -0.35, -0.75, -0.95, -0.9, -1.05, -1.3, -1.5, -1.3, -0.9,
    -0.4, 0.2, 0.15, 0.1, 0.15, 0.3, 0.75, 0.9, 0.7, 0.45, 0.25, -0.1,
    -0.3, -0.2, -0.1, 0.55, 0.9, 1.15, 1.35, 1.1, 0.9, 0.75, 0.55, 0.45,
    0.3, 0.1, 0.25, 0.3, 0.2, 0.0, -0.55, -1.0, -1.3, -0.95, -0.85, -0.55,
    -0.5, -0.45, -0.35, -0.3, 0.0, 0.15, 0.2, -0.25, -0.5, -0.7, -0.6, -0.4,
    -0.25, 0.2, 0.45, 0.8, 1.05, 1.25, 0.8, 0.45, 0.35, -0.05, -0.4, -0.45,
    -0.45, -0.45, -0.55, -0.75, -1.0, -1.3, -1.5, -1.05, -0.7, -0.4, -0.3, -0.2,
]
gfdl_10 = [
    -0.5, 0.35, 0.8, 0.9, 1.0, 0.65, 0.25, 0.45, 0.65, 0.9, 1.1, 0.8,
    0.25, 0.25, -0.2, -0.55, -0.9, -0.5, -0.2, -0.1, 0.3, 0.5, 0.6, 0.45,
    0.2, 0.05, -0.3, -0.4, -0.35, -0.4, -0.3, -0.1, 0.1, 0.55, 0.95, 0.45,
    0.05, -0.3, -0.75, -0.9, -0.55, -0.45, -0.5, -0.35, -0.65, -0.9, -0.95, -0.6,
    -0.3, 0.2, -0.1, -0.6, -0.85, -0.45, 0.1, 0.6, 1.0, 1.3, 1.2, 1.25,
    1.25, 0.7, 0.15, -0.35, -0.8, -1.0, -0.95, -1.1, -1.35, -1.6, -1.35, -0.95,
    -0.4, 0.2, 0.15, 0.1, 0.15, 0.3, 0.75, 0.9, 0.7, 0.45, 0.25, -0.1,
    -0.3, -0.2, -0.1, 0.55, 0.9, 1.1, 1.3, 1.05, 0.9, 0.75, 0.55, 0.45,
    0.3, 0.1, 0.25, 0.3, 0.2, 0.0, -0.5, -1.0, -1.25, -0.9, -0.8, -0.5,
    -0.45, -0.4, -0.3, -0.3, 0.0, 0.15, 0.25, -0.2, -0.45, -0.6, -0.5, -0.35,
    -0.2, 0.25, 0.5, 0.85, 1.15, 1.4, 0.85, 0.5, 0.35, 0.0, -0.35, -0.4,
    -0.4, -0.4, -0.5, -0.7, -0.95, -1.2, -1.45, -1.0, -0.65, -0.35, -0.3, -0.2,
]

series = [ersst, hadisst, cesm_em, cesm_1, cesm_2, cesm_3, cesm_4, cesm_5,
          cesm_6, cesm_7, cesm_8, cesm_9, cesm_10, gfdl_em, gfdl_1, gfdl_2,
          gfdl_3, gfdl_4, gfdl_5, gfdl_6, gfdl_7, gfdl_8, gfdl_9, gfdl_10]
for i, s in enumerate(series):
    assert len(s) == 12 * trend_years[i], (panel_names[i], len(s))

# ---------------- layout geometry (screen pixels) ----------------
col_left = [50, 613, 1175, 1737]
row_top0 = 119.0
row_pitch = 232.0
panel_h = 160.0
px_per_year = 36.8
title_y = 29.0

RED = "#ff0000"
BLUE = "#0000ff"


def fx(px):
    return (px - OFF) / W


def fy(py):
    return 1 - (py - OFF) / H


fig = go.Figure()
annotations = []
shapes = []
layout_axes = {}

for i, name in enumerate(panel_names):
    k = i + 1
    sfx = "" if k == 1 else str(k)
    xref, yref = "x" + sfx, "y" + sfx
    r, c = divmod(i, 4)

    vals = np.array(series[i], dtype=float)
    n = len(vals)
    t = start_year + np.arange(n) / 12.0
    x_lo = start_year - 0.5
    x_hi = start_year + trend_years[i] + 0.5
    x0 = col_left[c]
    x1 = x0 + (x_hi - x_lo) * px_per_year
    y0 = row_top0 + r * row_pitch
    y1 = y0 + panel_h

    # linear trend: slope from the stated change, through the data centroid
    slope = trend_degC[i] / trend_years[i]
    tm, vm = t.mean(), vals.mean()
    d = vals - (vm + slope * (t - tm))

    T, D = [t[0]], [d[0]]
    for j in range(n - 1):
        if d[j] * d[j + 1] < 0:
            f = d[j] / (d[j] - d[j + 1])
            T.append(t[j] + f * (t[j + 1] - t[j]))
            D.append(0.0)
        T.append(t[j + 1])
        D.append(d[j + 1])
    T = np.array(T)
    D = np.array(D)
    base = vm + slope * (T - tm)
    up = base + np.maximum(D, 0)
    lo = base + np.minimum(D, 0)

    for arr, col in ((up, RED), (lo, BLUE)):
        fig.add_trace(go.Scatter(
            x=np.concatenate([T, T[::-1]]), y=np.concatenate([arr, base[::-1]]),
            xaxis=xref, yaxis=yref, mode="lines", fill="toself",
            fillcolor=col, line=dict(width=0, color=col),
            hoverinfo="skip", showlegend=False))
    fig.add_trace(go.Scatter(
        x=t, y=vals, xaxis=xref, yaxis=yref, mode="lines",
        line=dict(color="#b4b4b4", width=0.6), hoverinfo="skip", showlegend=False))

    # axes
    if trend_years[i] == 11:
        xt = hadisst_ticks
        xtt = [f"{v:.1f}" for v in xt]
        xminor = 0.5
    else:
        xt = year_ticks
        xtt = [str(v) for v in xt]
        xminor = 1
    yt = np.arange(y_min[i], y_max[i] + 1e-9, y_step[i])
    ytt = [f"{v:.1f}".replace("-0.0", "0.0") for v in yt]

    common = dict(showline=True, linecolor="black", linewidth=1.4, mirror="ticks",
                  ticks="outside", ticklen=10, tickwidth=1.3, tickcolor="black",
                  showgrid=False, zeroline=False, fixedrange=True,
                  tickfont=dict(family=FONT, size=13, color="black"))
    layout_axes["xaxis" + sfx] = dict(
        common, domain=[fx(x0), fx(x1)], anchor=yref, range=[x_lo, x_hi],
        tickmode="array", tickvals=xt, ticktext=xtt,
        minor=dict(tickmode="linear", tick0=start_year, dtick=xminor, ticklen=5,
                   ticks="outside", tickwidth=1, tickcolor="black", showgrid=False))
    layout_axes["yaxis" + sfx] = dict(
        common, domain=[fy(y1), fy(y0)], anchor=xref,
        range=[y_min[i], y_max[i]],
        tickmode="array", tickvals=list(yt), ticktext=ytt,
        minor=dict(tickmode="linear", tick0=y_min[i], dtick=y_step[i] / 5, ticklen=5,
                   ticks="outside", tickwidth=1, tickcolor="black", showgrid=False))

    # zero reference line
    shapes.append(dict(type="line", xref=xref + " domain", yref=yref,
                       x0=0, x1=1, y0=0, y1=0, layer="above",
                       line=dict(color="#a6a6a6", width=1)))

    # titles
    annotations.append(dict(text=name, xref="paper", yref="paper",
                            x=fx(x0), y=fy(y0 - 7), xanchor="left", yanchor="bottom",
                            showarrow=False, font=dict(family=FONT, size=17.5, color="black")))
    annotations.append(dict(text=f"{trend_degC[i]:g}C {trend_years[i]}yr<sup>-1</sup>",
                            xref="paper", yref="paper",
                            x=fx(x1), y=fy(y0 - 9), xanchor="right", yanchor="bottom",
                            showarrow=False, font=dict(family=FONT, size=13.5, color="black")))

annotations.append(dict(text=main_title, xref="paper", yref="paper", x=fx(SCREEN_W / 2), y=fy(title_y),
                        xanchor="center", yanchor="middle", showarrow=False,
                        font=dict(family=FONT, size=38, color="black")))

fig.update_layout(width=W, height=H, margin=dict(l=0, r=0, t=0, b=0),
                  paper_bgcolor="white", plot_bgcolor="white",
                  showlegend=False, annotations=annotations, shapes=shapes,
                  **layout_axes)

fig.write_html("out.html")
